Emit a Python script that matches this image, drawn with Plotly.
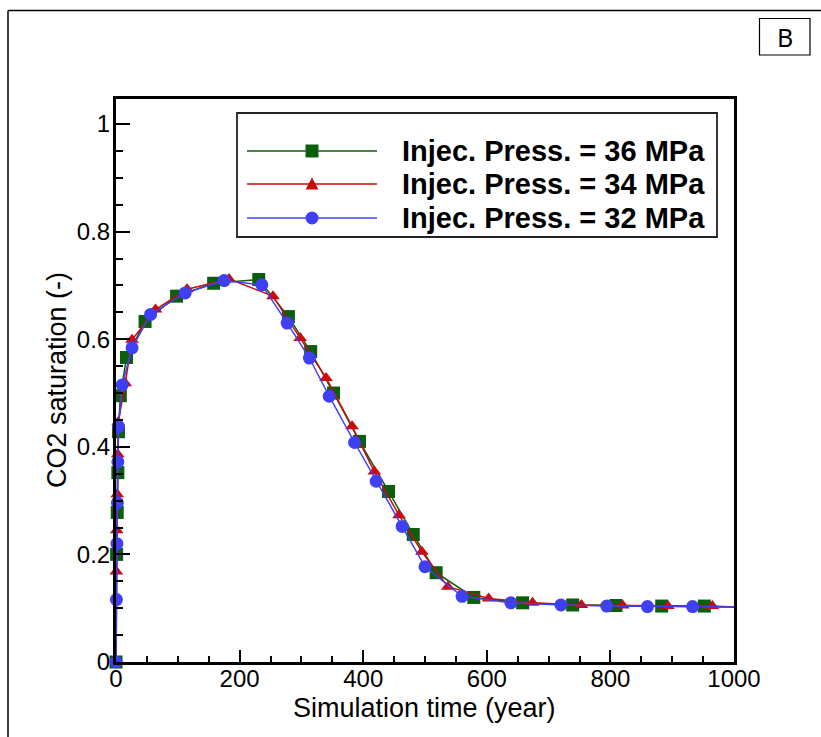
import plotly.graph_objects as go

# ---------------- data ----------------
t_36 = [0, 1, 2, 3, 4, 7, 17, 47, 98, 158, 231, 279, 315, 352, 394, 441, 481,
        518, 579, 658, 739, 809, 883, 952, 1000]
s_36 = [0.0, 0.20, 0.278, 0.352, 0.428, 0.495, 0.566, 0.633, 0.680, 0.704, 0.711,
        0.642, 0.577, 0.500, 0.410, 0.317, 0.237, 0.166, 0.120, 0.110, 0.106,
        0.105, 0.104, 0.104, 0.102]

t_34 = [0.5, 1.2, 2, 2.8, 3.6, 15, 26, 64, 115, 183, 254, 298, 340, 382, 418,
        458, 495, 537, 603, 674, 753, 820, 893, 965, 1000]
s_34 = [0.168, 0.245, 0.312, 0.386, 0.446, 0.518, 0.599, 0.655, 0.693, 0.712,
        0.680, 0.602, 0.528, 0.438, 0.354, 0.273, 0.205, 0.140, 0.118, 0.110,
        0.106, 0.105, 0.104, 0.104, 0.102]

t_32 = [0, 0.7, 1.5, 2.2, 3, 4, 10, 26, 56, 112, 175, 236, 277, 313, 345, 386,
        421, 463, 500, 560, 639, 720, 794, 860, 933, 1000]
s_32 = [0.0, 0.116, 0.220, 0.296, 0.372, 0.437, 0.515, 0.584, 0.646, 0.686,
        0.709, 0.701, 0.630, 0.565, 0.494, 0.408, 0.336, 0.252, 0.177, 0.122,
        0.110, 0.106, 0.104, 0.103, 0.103, 0.102]

labels = ["Injec. Press. = 36 MPa", "Injec. Press. = 34 MPa", "Injec. Press. = 32 MPa"]
x_ticks = [0, 200, 400, 600, 800, 1000]
y_ticks = [0, 0.2, 0.4, 0.6, 0.8, 1]
x_title = "Simulation time (year)"
y_title = "CO2 saturation (-)"

# ---------------- styles ----------------
GREEN = "#0b5e0b"
RED = "#cc0a0a"
BLUE = "#3f3ff5"
FONT = "Liberation Sans, Arial, sans-serif"

W, H = 821, 737
ML, MR, MT, MB = 116, 87, 99, 75
PW, PH = W - ML - MR, H - MT - MB


def px(x):
    return (x - ML) / PW


def py(y):
    return (H - MB - y) / PH


def sizes(n, s):
    return [s] * (n - 1) + [0]


fig = go.Figure()
series = [
    (t_36, s_36, GREEN, "square", 13, labels[0]),
    (t_34, s_34, RED, "triangle-up", 12, labels[1]),
    (t_32, s_32, BLUE, "circle", 13, labels[2]),
]
for t, s, c, sym, ms, name in series:
    fig.add_trace(go.Scatter(
        x=t, y=s, mode="lines+markers", name=name, showlegend=False,
        line=dict(color=c, width=1.5),
        marker=dict(symbol=sym, size=sizes(len(t), ms), color=c, opacity=1,
                    line=dict(width=0)),
        opacity=1,
        cliponaxis=False,
    ))

shapes = []
annotations = []

# outer frame (left and top edges)
shapes.append(dict(type="line", xref="paper", yref="paper",
                   x0=px(8), x1=px(8), y0=py(10.5), y1=py(740),
                   line=dict(color="black", width=1.5)))
shapes.append(dict(type="line", xref="paper", yref="paper",
                   x0=px(8), x1=px(825), y0=py(10.5), y1=py(10.5),
                   line=dict(color="black", width=1.5)))

# panel label "B"
shapes.append(dict(type="rect", xref="paper", yref="paper",
                   x0=px(759.5), x1=px(810), y0=py(18.5), y1=py(55),
                   line=dict(color="black", width=1.2), fillcolor="white"))
annotations.append(dict(text="B", xref="paper", yref="paper",
                        x=px(784.8), y=py(37), xanchor="center", yanchor="middle",
                        showarrow=False,
                        font=dict(family="Noto Sans, Open Sans, sans-serif", size=25, color="black")))

# custom legend box
shapes.append(dict(type="rect", xref="paper", yref="paper",
                   x0=px(237), x1=px(717), y0=py(113), y1=py(237),
                   line=dict(color="#222222", width=1.8), fillcolor="white", layer="below"))
rows = [151, 184, 218]
for (t, s, c, sym, ms, name), ry in zip(series, rows):
    shapes.append(dict(type="line", xref="paper", yref="paper",
                       x0=px(247), x1=px(377), y0=py(ry), y1=py(ry),
                       line=dict(color=c, width=1.5)))
    cx = 312
    if sym == "square":
        shapes.append(dict(type="rect", xref="paper", yref="paper",
                           x0=px(cx - 6.5), x1=px(cx + 6.5), y0=py(ry - 6.5), y1=py(ry + 6.5),
                           line=dict(width=0), fillcolor=c))
    elif sym == "circle":
        shapes.append(dict(type="circle", xref="paper", yref="paper",
                           x0=px(cx - 6.5), x1=px(cx + 6.5), y0=py(ry - 6.5), y1=py(ry + 6.5),
                           line=dict(width=0), fillcolor=c))
    else:
        path = "M {:.5f},{:.5f} L {:.5f},{:.5f} L {:.5f},{:.5f} Z".format(
            px(cx - 6.5), py(ry + 5.5), px(cx + 6.5), py(ry + 5.5), px(cx), py(ry - 6.5))
        shapes.append(dict(type="path", xref="paper", yref="paper", path=path,
                           line=dict(width=0), fillcolor=c))
    annotations.append(dict(text="<b>" + name + "</b>", xref="paper", yref="paper",
                            x=px(400), y=py(ry), xanchor="left", yanchor="middle",
                            showarrow=False,
                            font=dict(family=FONT, size=29, color="black")))

# axis titles
annotations.append(dict(text=x_title, xref="paper", yref="paper",
                        x=px(424), y=py(708), xanchor="center", yanchor="middle",
                        showarrow=False, font=dict(family=FONT, size=27, color="black")))
annotations.append(dict(text=y_title, xref="paper", yref="paper",
                        x=px(57), y=py(380), xanchor="center", yanchor="middle",
                        textangle=-90,
                        showarrow=False, font=dict(family=FONT, size=27, color="black")))

axis_common = dict(
    showline=True, linecolor="black", linewidth=3, mirror=True,
    ticks="inside", tickcolor="black", tickwidth=2,
    showgrid=False, zeroline=False,
    tickfont=dict(family=FONT, size=24, color="black"),
)

fig.update_layout(
    width=W, height=H,
    margin=dict(l=ML, r=MR, t=MT, b=MB, pad=0),
    paper_bgcolor="white", plot_bgcolor="white",
    showlegend=False,
    shapes=shapes, annotations=annotations,
    xaxis=dict(range=[0, 1000], tickvals=x_ticks, ticklen=12,
               ticklabelstandoff=-7,
               minor=dict(ticks="inside", ticklen=6, dtick=50, tickcolor="black", tickwidth=2),
               **axis_common),
    yaxis=dict(range=[0, PH / 538.0], tickvals=y_ticks, ticklen=14,
               ticklabelstandoff=-2,
               minor=dict(ticks="inside", ticklen=7, dtick=0.05, tickcolor="black", tickwidth=2),
               **axis_common),
)

fig.write_html("out.html")
